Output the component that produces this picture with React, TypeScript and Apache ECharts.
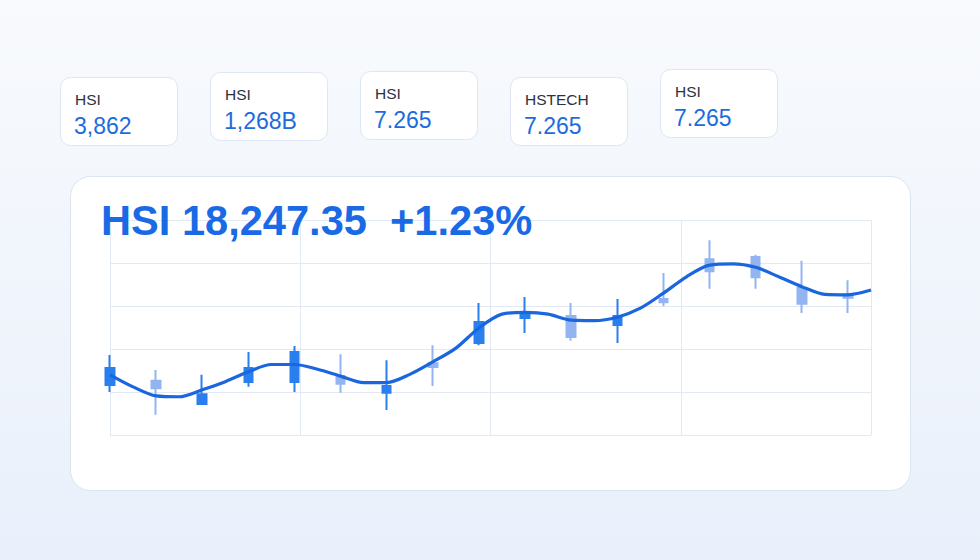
import React, { useEffect, useRef } from "react";
import * as echarts from "echarts";

const categories = [
  "09:30", "09:40", "09:50", "10:00", "10:10", "10:20", "10:30", "10:40", "10:50",
  "11:00", "11:10", "11:20", "11:30", "11:40", "11:50", "12:00",
  "13:00", "13:10", "13:20", "13:30", "13:40", "13:50",
  "14:00", "14:10", "14:20", "14:30", "14:40", "14:50",
  "15:00", "15:10", "15:20", "15:30", "15:40", "15:50",
];

// 17 candles, placed on every other category
const candleOpen = [17916, 17926, 17872, 17923, 17923, 17937, 17898, 17967, 18014, 18072, 18077, 18056, 18116, 18209, 18214, 18142, 18126];
const candleClose = [17956, 17909, 17895, 17956, 17993, 17919, 17914, 17958, 18063, 18086, 18028, 18077, 18109, 18181, 18167, 18105, 18119];
const candleLow = [17900, 17847, 17872, 17912, 17900, 17898, 17858, 17914, 18009, 18037, 18019, 18014, 18100, 18140, 18140, 18084, 18084];
const candleHigh = [17986, 17951, 17940, 17993, 18007, 17988, 17974, 18009, 18107, 18121, 18107, 18116, 18177, 18253, 18219, 18205, 18160];

const trendLine = [
  17940, 17912, 17891, 17889, 17905, 17924, 17947, 17964, 17964, 17953, 17937, 17922,
  17922, 17941, 17970, 18002, 18049, 18081, 18085, 18081, 18067, 18066, 18074, 18095,
  18130, 18168, 18195, 18198, 18190, 18168, 18145, 18127, 18126, 18137,
];

const yTicks = [17800, 17900, 18000, 18100, 18200, 18300];

const cardLabels = ["HSI", "HSI", "HSI", "HSTECH", "HSI"];
const cardValues = ["3,862", "1,268B", "7.265", "7.265", "7.265"];
const cardX = [61, 211, 361, 511, 661];
const cardY = [77, 72, 71, 77, 69];

const headerText = "HSI 18,247.35  +1.23%";

const FONT = "'Liberation Sans', Arial, Helvetica, sans-serif";

export default function App() {
  const ref = useRef<HTMLDivElement>(null);

  useEffect(() => {
    if (!ref.current) return;
    const chart = echarts.init(ref.current, undefined, { renderer: "svg" });

    const candleData: any[] = [];
    let k = 0;
    for (let i = 0; i < categories.length; i++) {
      if (i % 2 === 0 && k < candleOpen.length) {
        candleData.push([candleOpen[k], candleClose[k], candleLow[k], candleHigh[k]]);
        k++;
      } else {
        candleData.push("-");
      }
    }

    const graphics: any[] = [];
    // main chart card
    graphics.push({
      type: "rect",
      z: -10,
      shape: { x: 70.5, y: 176.5, width: 840, height: 314, r: 20 },
      style: { fill: "#ffffff", stroke: "#dbe4f1", lineWidth: 1 },
    });
    cardLabels.forEach((label, i) => {
      const x = cardX[i];
      const y = cardY[i];
      graphics.push({
        type: "rect",
        z: -10,
        shape: { x: x - 0.5, y: y + 0.5, width: 117, height: 68, r: 10 },
        style: { fill: "#ffffff", stroke: "#dde6f2", lineWidth: 1 },
      });
      graphics.push({
        type: "text",
        z: 10,
        x: x + 14,
        y: y + 22,
        style: {
          text: label,
          fill: "#2a3242",
          font: `15.5px ${FONT}`,
          verticalAlign: "middle",
          align: "left",
        },
      });
      graphics.push({
        type: "text",
        z: 10,
        x: x + 13,
        y: y + 48.5,
        style: {
          text: cardValues[i],
          fill: "#1e6bdc",
          font: `23px ${FONT}`,
          verticalAlign: "middle",
          align: "left",
        },
      });
    });
    graphics.push({
      type: "text",
      z: 10,
      x: 101,
      y: 220,
      style: {
        text: headerText,
        fill: "#1a6ae6",
        font: `bold 41.6px ${FONT}`,
        verticalAlign: "middle",
        align: "left",
      },
    });

    const gridColor = "#e3e9f3";

    chart.setOption({
      animation: false,
      backgroundColor: new echarts.graphic.LinearGradient(0, 0, 0, 1, [
        { offset: 0, color: "#f8fafd" },
        { offset: 1, color: "#e9f0fb" },
      ]),
      graphic: graphics,
      grid: { left: 110, right: 109, top: 220, bottom: 125, containLabel: false },
      xAxis: [
        {
          type: "category",
          data: categories,
          boundaryGap: false,
          axisLine: { show: false },
          axisTick: { show: false },
          axisLabel: { show: false },
          splitLine: { show: false },
          z: 1,
        },
        {
          type: "value",
          min: 0,
          max: 4,
          interval: 1,
          position: "top",
          axisLine: { show: false },
          axisTick: { show: false },
          axisLabel: { show: false },
          splitLine: { show: true, lineStyle: { color: gridColor, width: 1 } },
          z: 1,
        },
      ],
      yAxis: {
        type: "value",
        min: yTicks[0],
        max: yTicks[yTicks.length - 1],
        interval: yTicks[1] - yTicks[0],
        axisLine: { show: false },
        axisTick: { show: false },
        axisLabel: { show: false },
        splitLine: { show: true, lineStyle: { color: gridColor, width: 1 } },
        z: 1,
      },
      series: [
        {
          type: "candlestick",
          xAxisIndex: 0,
          data: candleData,
          barWidth: 9,
          z: 3,
          itemStyle: {
            color: "#2a7fee",
            color0: "#92b5f1",
            borderColor: "#2a7fee",
            borderColor0: "#92b5f1",
            borderWidth: 2,
          },
        },
        {
          type: "line",
          xAxisIndex: 0,
          data: trendLine,
          smooth: 0.3,
          symbol: "none",
          z: 5,
          lineStyle: { color: "#1a66de", width: 3.2 },
        },
      ],
    });

    return () => chart.dispose();
  }, []);

  return (
    <div
      ref={ref}
      style={{ position: "absolute", left: 0, top: 0, width: 980, height: 560 }}
    />
  );
}
